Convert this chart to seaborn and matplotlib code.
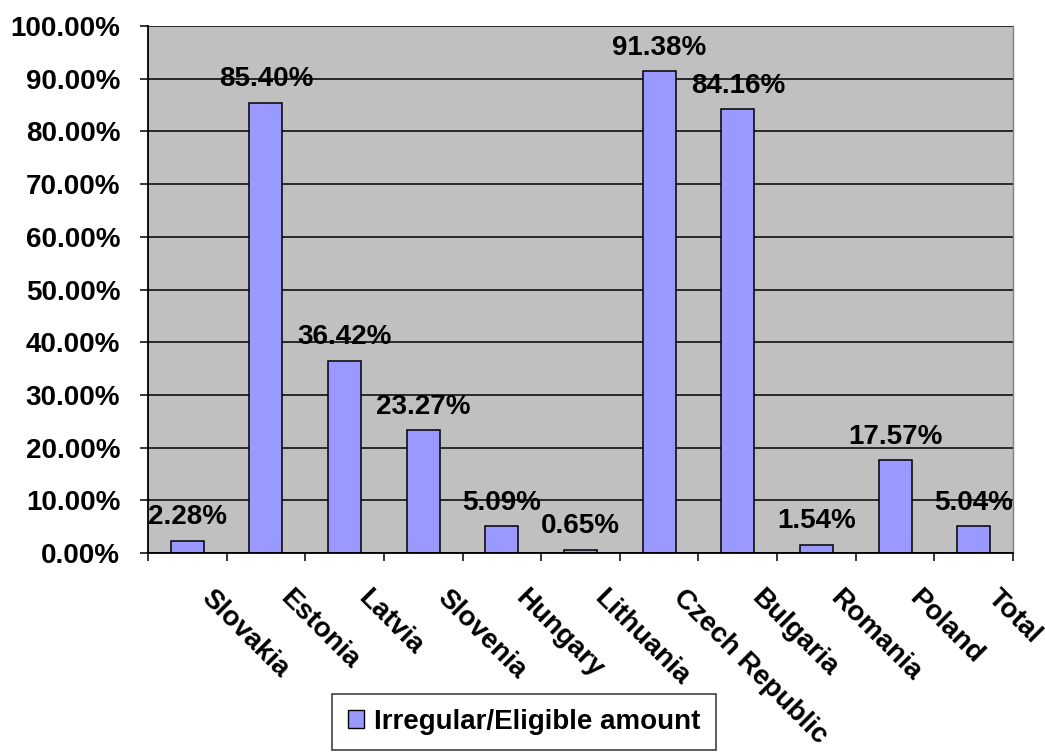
import matplotlib
matplotlib.use("Agg")
import matplotlib.pyplot as plt
import matplotlib.transforms as mtransforms
from matplotlib.patches import Patch
from matplotlib.ticker import FuncFormatter
import seaborn as sns
import pandas as pd

# Share of irregular amounts in the eligible amount, per country (%)
countries = ["Slovakia", "Estonia", "Latvia", "Slovenia", "Hungary", "Lithuania",
             "Czech Republic", "Bulgaria", "Romania", "Poland", "Total"]
irregular_share = [2.28, 85.40, 36.42, 23.27, 5.09, 0.65, 91.38, 84.16, 1.54, 17.57, 5.04]
series_name = "Irregular/Eligible amount"
y_ticks = list(range(0, 101, 10))

BAR_COLOR = "#9999FF"
PLOT_BG = "#C0C0C0"

sns.set_style("ticks")
plt.rcParams["font.family"] = ["Liberation Sans", "DejaVu Sans"]
plt.rcParams["font.weight"] = "bold"
plt.rcParams["font.size"] = 20
plt.rcParams["text.color"] = "black"
plt.rcParams["xtick.color"] = "black"
plt.rcParams["ytick.color"] = "black"
plt.rcParams["xtick.labelcolor"] = "black"
plt.rcParams["ytick.labelcolor"] = "black"

W, H = 1045, 756
fig = plt.figure(figsize=(W / 100, H / 100), dpi=100)
ax = fig.add_axes([148 / W, 1 - 553 / H, (1013 - 148) / W, (553 - 26) / H])

df = pd.DataFrame({"country": countries, "share": irregular_share})
sns.barplot(data=df, x="country", y="share", color=BAR_COLOR, saturation=1,
            width=0.42, edgecolor="black", linewidth=1.1, ax=ax)

ax.set_xlim(-0.5, len(countries) - 0.5)
ax.set_ylim(0, 100)
ax.set_facecolor(PLOT_BG)
ax.set_xlabel("")
ax.set_ylabel("")

# horizontal grid behind the bars
ax.set_axisbelow(True)
ax.yaxis.grid(True, color="black", linewidth=1.1)
ax.xaxis.grid(False)

# y axis: percentage ticks
ax.set_yticks(y_ticks)
ax.yaxis.set_major_formatter(FuncFormatter(lambda v, _: f"{v:.2f}%"))
ax.tick_params(axis="y", length=6, width=1.1, color="black", pad=14,
               labelsize=20, labelcolor="black")
for lbl in ax.get_yticklabels():
    lbl.set_fontweight("bold")

# x axis: tick marks between categories, slanted labels
ax.set_xticks(range(len(countries)))
ax.set_xticklabels(countries, rotation=-45, ha="left", va="top",
                   rotation_mode="anchor", fontweight="bold", fontsize=20,
                   color="black")
ax.set_xticks([i - 0.5 for i in range(len(countries) + 1)], minor=True)
ax.tick_params(axis="x", which="major", length=0, pad=0)
ax.tick_params(axis="x", which="minor", length=6, width=1.1, color="black",
               direction="out")
shift = mtransforms.ScaledTranslation(0.27, -0.32, fig.dpi_scale_trans)
for lbl in ax.get_xticklabels():
    lbl.set_transform(lbl.get_transform() + shift)

# spines
for side in ["left", "bottom"]:
    ax.spines[side].set_color("black")
    ax.spines[side].set_linewidth(1.3)
ax.spines["right"].set_color("#808080")
ax.spines["right"].set_linewidth(1.0)
ax.spines["top"].set_visible(False)

# value labels above the bars
for i, v in enumerate(irregular_share):
    ax.annotate(f"{v:.2f}%", xy=(i, v), xytext=(0, 12),
                textcoords="offset points", ha="center", va="baseline",
                fontweight="bold", fontsize=20, color="black",
                annotation_clip=False)

# legend box under the chart
handle = Patch(facecolor=BAR_COLOR, edgecolor="black", linewidth=1.0,
               label=series_name)
leg = fig.legend(handles=[handle], loc="center",
                 bbox_to_anchor=(524 / W, 1 - 722 / H),
                 frameon=True, fancybox=False, shadow=False,
                 prop={"weight": "bold", "size": 20},
                 handlelength=0.6, handleheight=0.6, handletextpad=0.35,
                 borderpad=0.55, labelcolor="black")
leg.get_frame().set_edgecolor("black")
leg.get_frame().set_linewidth(1.1)
leg.get_frame().set_facecolor("white")

fig.savefig("out.png", dpi=100, facecolor="white")
